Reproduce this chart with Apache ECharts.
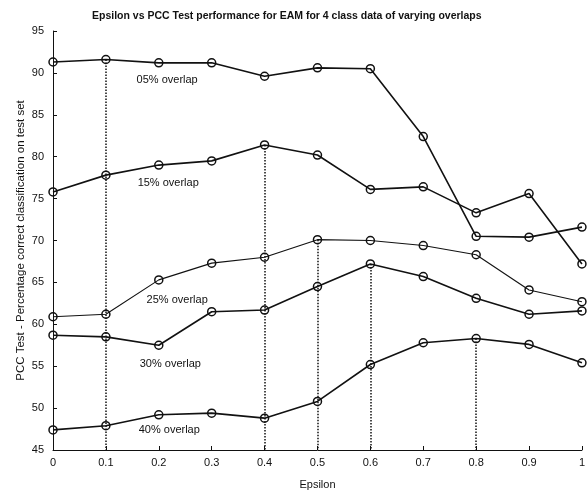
<!DOCTYPE html>
<html>
<head>
<meta charset="utf-8">
<script src="https://cdn.jsdelivr.net/npm/echarts@6/dist/echarts.min.js"></script>
<style>
  html, body { margin: 0; padding: 0; background: #fff; }
  #chart { width: 588px; height: 495px; }
</style>
</head>
<body>
<div id="chart"></div>
<script>
var myChart = echarts.init(document.getElementById('chart'));

// epsilon values on the x axis
var epsilon = [0, 0.1, 0.2, 0.3, 0.4, 0.5, 0.6, 0.7, 0.8, 0.9, 1];

// PCC test (%) for each overlap level
var overlap05 = [91.3, 91.6, 91.2, 91.2, 89.6, 90.6, 90.5, 82.4, 70.5, 70.4, 71.6];
var overlap15 = [75.8, 77.8, 79.0, 79.5, 81.4, 80.2, 76.1, 76.4, 73.3, 75.6, 67.2];
var overlap25 = [60.9, 61.2, 65.3, 67.3, 68.0, 70.1, 70.0, 69.4, 68.3, 64.1, 62.7];
var overlap30 = [58.7, 58.5, 57.5, 61.5, 61.7, 64.5, 67.2, 65.7, 63.1, 61.2, 61.6];
var overlap40 = [47.4, 47.9, 49.2, 49.4, 48.8, 50.8, 55.2, 57.8, 58.3, 57.6, 55.4];

var seriesNames = ['05% overlap', '15% overlap', '25% overlap', '30% overlap', '40% overlap'];
var seriesValues = [overlap05, overlap15, overlap25, overlap30, overlap40];

// where each text label sits (data coords of its left edge)
var labelX = [0.158, 0.160, 0.177, 0.164, 0.162];
var labelY = [89.2, 76.9, 62.9, 55.3, 47.4];

var yMin = 45, yMax = 95;
var font = 'Liberation Sans';

var series = seriesValues.map(function (vals, i) {
    // dotted drop line from the best point of the curve
    var best = 0;
    vals.forEach(function (v, j) { if (v > vals[best]) best = j; });
    return {
        name: seriesNames[i],
        type: 'line',
        data: vals.map(function (v, j) { return [epsilon[j], v]; }),
        symbol: 'circle',
        symbolSize: 8,
        showAllSymbol: true,
        clip: false,
        lineStyle: { color: '#111', width: i === 2 ? 1.1 : 1.6 },
        itemStyle: { color: 'rgba(0,0,0,0)', borderColor: '#111', borderWidth: 1.5 },
        markLine: {
            silent: true,
            symbol: 'none',
            label: { show: false },
            lineStyle: { color: '#111', type: 'dotted', width: 1.5 },
            data: [[{ coord: [epsilon[best], vals[best]] }, { coord: [epsilon[best], yMin] }]]
        },
        markPoint: {
            silent: true,
            symbolSize: 0,
            label: {
                show: true,
                position: 'right',
                distance: 0,
                color: '#111',
                fontFamily: font,
                fontSize: 11,
                formatter: seriesNames[i]
            },
            data: [{ coord: [labelX[i], labelY[i]] }]
        }
    };
});

option = {
    animation: false,
    backgroundColor: '#fff',
    title: {
        text: 'Epsilon vs PCC Test performance for EAM for 4 class data of varying overlaps',
        left: 87,
        top: 6,
        textStyle: { fontFamily: font, fontSize: 10.5, fontWeight: 'bold', color: '#111' }
    },
    grid: { left: 53, right: 2, top: 31, bottom: 43 },
    xAxis: {
        type: 'value',
        min: 0,
        max: 1,
        interval: 0.1,
        name: 'Epsilon',
        nameLocation: 'middle',
        nameGap: 29,
        nameMoveOverlap: false,
        nameTextStyle: { fontFamily: font, fontSize: 11, color: '#111' },
        axisLine: { lineStyle: { color: '#111', width: 1 } },
        axisTick: { inside: true, length: 4, lineStyle: { color: '#111' } },
        axisLabel: { fontFamily: font, fontSize: 11, color: '#111', margin: 7 },
        splitLine: { show: false }
    },
    yAxis: {
        type: 'value',
        min: yMin,
        max: yMax,
        interval: 5,
        name: 'PCC Test - Percentage correct classification on test set',
        nameLocation: 'middle',
        nameGap: 26,
        nameMoveOverlap: false,
        nameTextStyle: { fontFamily: font, fontSize: 11.5, color: '#111' },
        axisLine: { show: true, lineStyle: { color: '#111', width: 1 } },
        axisTick: { show: true, inside: true, length: 4, lineStyle: { color: '#111' } },
        axisLabel: { fontFamily: font, fontSize: 11, color: '#111', margin: 9 },
        splitLine: { show: false }
    },
    series: series
};
myChart.setOption(option);
</script>
</body>
</html>
